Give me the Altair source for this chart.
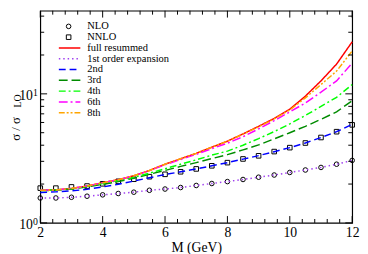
import altair as alt
import pandas as pd
import numpy as np

# ---------------- data ----------------
M = [2, 2.5, 3, 3.5, 4, 4.5, 5, 5.5, 6, 6.5, 7, 7.5, 8, 8.5, 9, 9.5, 10, 10.5, 11, 11.5, 12]

nlo  = [1.56, 1.56, 1.58, 1.61, 1.65, 1.69, 1.73, 1.79, 1.83, 1.88, 1.95, 2.02, 2.09, 2.17, 2.26, 2.35, 2.46, 2.57, 2.69, 2.85, 3.05]
nnlo = [1.86, 1.86, 1.90, 1.93, 2.01, 2.10, 2.18, 2.28, 2.38, 2.49, 2.62, 2.77, 2.93, 3.13, 3.31, 3.57, 3.83, 4.16, 4.59, 5.09, 5.75]

full = [1.79, 1.80, 1.85, 1.93, 2.05, 2.16, 2.32, 2.55, 2.85, 3.14, 3.46, 3.86, 4.30, 4.89, 5.60, 6.45, 7.60, 9.60, 12.6, 17.0, 25.3]
exp1 = [1.56, 1.56, 1.58, 1.61, 1.65, 1.69, 1.73, 1.79, 1.83, 1.88, 1.95, 2.02, 2.09, 2.17, 2.26, 2.35, 2.46, 2.57, 2.69, 2.85, 3.05]
exp2 = [1.72, 1.74, 1.77, 1.82, 1.90, 1.99, 2.11, 2.24, 2.37, 2.49, 2.62, 2.77, 2.93, 3.12, 3.32, 3.56, 3.83, 4.16, 4.59, 5.09, 5.80]
exp3 = [1.78, 1.79, 1.83, 1.90, 1.99, 2.09, 2.22, 2.38, 2.55, 2.74, 2.93, 3.15, 3.38, 3.68, 4.02, 4.48, 5.00, 5.60, 6.35, 7.25, 8.85]
exp4 = [1.79, 1.80, 1.84, 1.92, 2.02, 2.13, 2.26, 2.43, 2.63, 2.85, 3.08, 3.35, 3.60, 4.00, 4.50, 5.10, 5.85, 6.80, 8.00, 9.40, 11.8]
exp6 = [1.79, 1.80, 1.85, 1.93, 2.05, 2.16, 2.31, 2.54, 2.82, 3.10, 3.40, 3.76, 4.15, 4.65, 5.35, 6.20, 7.25, 8.50, 10.3, 12.6, 17.3]
exp8 = [1.79, 1.80, 1.85, 1.93, 2.05, 2.16, 2.32, 2.55, 2.85, 3.14, 3.46, 3.86, 4.29, 4.87, 5.55, 6.40, 7.50, 9.30, 11.8, 15.0, 21.5]

line_names = ["full resummed", "1st order expansion", "2nd", "3rd", "4th", "6th", "8th"]
line_vals = [full, exp1, exp2, exp3, exp4, exp6, exp8]
line_colors = ["#ff0000", "#a040f0", "#0000ff", "#008b00", "#00ff00", "#ff00ff", "#ffa500"]
line_dashes = [[1, 0], [1.5, 3], [7, 4], [9, 4], [7, 3, 2, 3], [9, 3, 2, 3], [6, 2, 2, 2, 2, 2]]

point_names = ["NLO", "NNLO"]
point_vals = [nlo, nnlo]
point_shapes = ["circle", "square"]

x_major = [2, 4, 6, 8, 10, 12]
x_minor = [round(v, 1) for v in np.arange(2, 12.01, 0.4) if round(v, 1) not in x_major]
y_major = [1, 10]
y_minor = [2, 3, 4, 5, 6, 7, 8, 9, 20, 30, 40]
y_sup = ["0", "1"]

x_title = "M (GeV)"
y_title_main = "σ / σ"
y_title_sub = "LO"

# ---------------- layout ----------------
FONT = "Liberation Serif"
W, H = 319, 217
YMAX = 10 ** (H / 132)

xs = alt.Scale(domain=[2, 12], nice=False, zero=False)
ys = alt.Scale(type="log", domain=[1, YMAX], nice=False)

x_axis = alt.Axis(values=x_major, ticks=False, domain=False, grid=False, labelFlush=False,
                  labelFont=FONT, labelFontSize=14, labelColor="black", labelPadding=3,
                  title=x_title, titleFont=FONT, titleFontSize=14, titleFontWeight="normal",
                  titleColor="black", titlePadding=1)
y_axis = alt.Axis(values=y_major, labelExpr="'10'", ticks=False, domain=False, grid=False,
                  labelFont=FONT, labelFontSize=14, labelColor="black", labelPadding=8,
                  labelOffset=2, title=None)

lines_df = pd.DataFrame([{"M": m, "v": v, "s": n}
                         for n, vals in zip(line_names, line_vals) for m, v in zip(M, vals)])
pts_df = pd.DataFrame([{"M": m, "v": v, "s": n}
                       for n, vals in zip(point_names, point_vals) for m, v in zip(M, vals)])

cscale = alt.Scale(domain=line_names, range=line_colors)
dscale = alt.Scale(domain=line_names, range=line_dashes)
sscale = alt.Scale(domain=point_names, range=point_shapes)

points = alt.Chart(pts_df).mark_point(filled=False, color="black", size=22, strokeWidth=1, opacity=1).encode(
    x=alt.X("M:Q", scale=xs, axis=x_axis),
    y=alt.Y("v:Q", scale=ys, axis=y_axis),
    shape=alt.Shape("s:N", scale=sscale, legend=None),
)

lines = alt.Chart(lines_df).mark_line(strokeWidth=1.5).encode(
    x=alt.X("M:Q", scale=xs, axis=x_axis),
    y=alt.Y("v:Q", scale=ys, axis=y_axis),
    color=alt.Color("s:N", scale=cscale, legend=None),
    strokeDash=alt.StrokeDash("s:N", scale=dscale, legend=None),
)

def xticks(vals, length):
    df = pd.DataFrame({"v": vals})
    bot = alt.Chart(df).mark_rule(color="black", strokeWidth=1).encode(
        x=alt.X("v:Q", scale=xs, axis=x_axis), y=alt.value(H), y2=alt.value(H - length))
    top = alt.Chart(df).mark_rule(color="black", strokeWidth=1).encode(
        x=alt.X("v:Q", scale=xs, axis=x_axis), y=alt.value(0), y2=alt.value(length))
    return [bot, top]

def yticks(vals, length):
    df = pd.DataFrame({"v": vals})
    left = alt.Chart(df).mark_rule(color="black", strokeWidth=1).encode(
        y=alt.Y("v:Q", scale=ys, axis=y_axis), x=alt.value(0), x2=alt.value(length))
    right = alt.Chart(df).mark_rule(color="black", strokeWidth=1).encode(
        y=alt.Y("v:Q", scale=ys, axis=y_axis), x=alt.value(W), x2=alt.value(W - length))
    return [left, right]

sup = alt.Chart(pd.DataFrame({"v": y_major, "t": y_sup})).mark_text(
    align="left", baseline="middle", font=FONT, fontSize=10, color="black", dy=-1).encode(
    y=alt.Y("v:Q", scale=ys, axis=y_axis), x=alt.value(-7.5), text="t:N")

ytitle1 = alt.Chart(pd.DataFrame({"t": [y_title_main]})).mark_text(
    align="left", baseline="middle", angle=270, font=FONT, fontSize=13, color="black").encode(
    text="t:N", x=alt.value(-25), y=alt.value(133))
ytitle2 = alt.Chart(pd.DataFrame({"t": [y_title_sub]})).mark_text(
    align="left", baseline="middle", angle=270, font=FONT, fontSize=10, color="black").encode(
    text="t:N", x=alt.value(-23), y=alt.value(99))

main = alt.layer(points, lines, *xticks(x_major, 7), *xticks(x_minor, 4),
                 *yticks(y_major, 7), *yticks(y_minor, 4), sup, ytitle1, ytitle2)

# ---------------- legend (inside top-left) ----------------
leg_lines_df = pd.DataFrame({"s": line_names, "row": list(range(2, 2 + len(line_names)))})
leg_pts_df = pd.DataFrame({"s": point_names, "row": [0, 1]})
leg_text_df = pd.DataFrame({"s": point_names + line_names, "row": list(range(len(point_names) + len(line_names)))})
rowscale = alt.Scale(domain=[0, 8], range=[16, 104.3])

leg_rules = alt.Chart(leg_lines_df).mark_rule(strokeWidth=1.5).encode(
    y=alt.Y("row:Q", scale=rowscale, axis=None), x=alt.value(19), x2=alt.value(41),
    color=alt.Color("s:N", scale=cscale, legend=None),
    strokeDash=alt.StrokeDash("s:N", scale=dscale, legend=None))
leg_pts = alt.Chart(leg_pts_df).mark_point(filled=False, color="black", size=22, strokeWidth=1, opacity=1).encode(
    y=alt.Y("row:Q", scale=rowscale, axis=None), x=alt.value(29),
    shape=alt.Shape("s:N", scale=sscale, legend=None))
leg_text = alt.Chart(leg_text_df).mark_text(align="left", baseline="middle", font=FONT, fontSize=10.7, color="black").encode(
    y=alt.Y("row:Q", scale=rowscale, axis=None), x=alt.value(48), text="s:N")

legend = alt.layer(leg_rules, leg_pts, leg_text)

chart = alt.layer(main, legend).resolve_scale(y="independent").properties(
    width=W, height=H, autosize="none",
    padding={"left": 33, "top": 0, "right": 8, "bottom": 29},
    background="white",
).configure_view(stroke="black", strokeWidth=1.2)

chart.save("out.html", embed_options={"renderer": "svg", "actions": False})
